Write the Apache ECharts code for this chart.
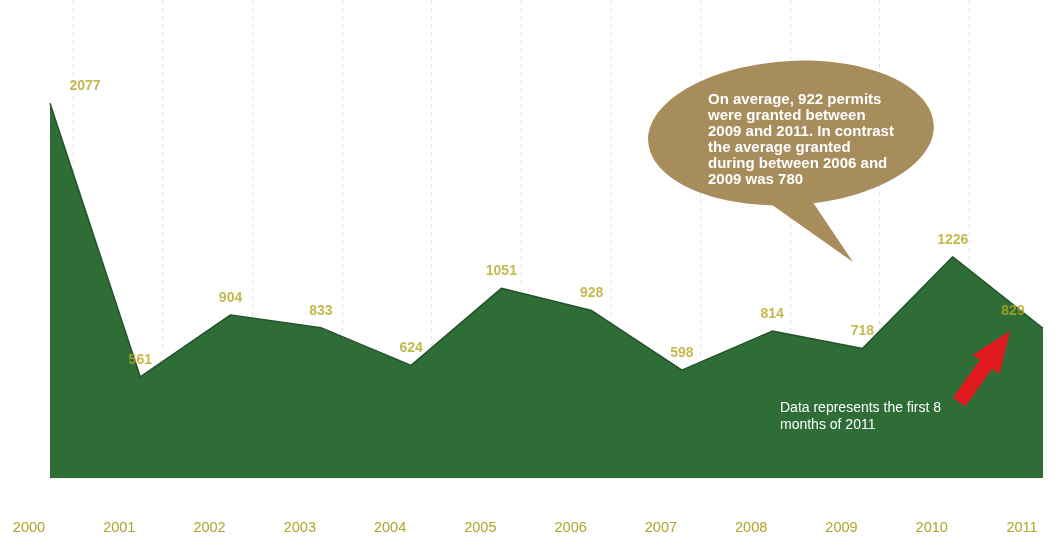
<!DOCTYPE html>
<html>
<head>
<meta charset="utf-8">
<script src="https://cdn.jsdelivr.net/npm/echarts@6/dist/echarts.min.js"></script>
<style>
  html, body { margin: 0; padding: 0; background: #ffffff; }
  #chart { width: 1059px; height: 540px; }
</style>
</head>
<body>
<div id="chart"></div>
<script>
const years = ['2000','2001','2002','2003','2004','2005','2006','2007','2008','2009','2010','2011'];
const permits = [2077, 561, 904, 833, 624, 1051, 928, 598, 814, 718, 1226, 829];
const bubbleLines = [
  'On average, 922 permits',
  'were granted between',
  '2009 and 2011. In contrast',
  'the average granted',
  'during between 2006 and',
  '2009 was 780'
];
const noteLines = ['Data represents the first 8', 'months of 2011'];

const labelColor = '#b3a823';
const seriesData = permits.map(function (v, i) {
  const d = { value: v };
  if (i === 0) d.label = { padding: [0, 0, 0, 70] };
  if (i === permits.length - 1) d.label = { padding: [0, 60, 0, 0] };
  return d;
});

const chart = echarts.init(document.getElementById('chart'), null, { renderer: 'canvas' });
chart.setOption({
  animation: false,
  backgroundColor: '#ffffff',
  grid: [
    { left: 50, right: 16, top: 81, bottom: 62 },
    { left: 73, right: -7, top: 0, bottom: 62 }
  ],
  xAxis: [
    {
      type: 'category', data: years, boundaryGap: false, gridIndex: 0,
      offset: 20,
      axisLine: { show: true, lineStyle: { color: '#ececec', width: 1 } },
      axisTick: { show: false },
      splitLine: { show: false },
      axisLabel: {
        color: '#aea52c', fontFamily: 'Liberation Sans, Arial, sans-serif', fontSize: 14.5,
        margin: 22, padding: [0, 42, 0, 0]
      }
    },
    {
      type: 'category', data: years, boundaryGap: false, gridIndex: 1,
      axisLine: { show: false }, axisTick: { show: false }, axisLabel: { show: false },
      splitLine: { show: true, lineStyle: { color: '#e2e2e2', type: [4, 4], width: 1 } }
    }
  ],
  yAxis: [
    { type: 'value', min: 0, max: 2200, gridIndex: 0, show: false, splitLine: { show: false } },
    { type: 'value', min: 0, max: 2200, gridIndex: 1, show: false, splitLine: { show: false } }
  ],
  series: [
    {
      type: 'line', xAxisIndex: 0, yAxisIndex: 0,
      data: permits,
      symbol: 'none',
      lineStyle: { color: '#24522b', width: 1.5 },
      areaStyle: { color: '#2f6d37', opacity: 1 },
      z: 3
    },
    {
      type: 'scatter', xAxisIndex: 0, yAxisIndex: 0,
      data: seriesData,
      symbol: 'circle', symbolSize: 2,
      itemStyle: { color: 'rgba(0,0,0,0)' },
      silent: true,
      z: 5,
      label: {
        show: true, position: 'top', distance: 9,
        color: labelColor, fontWeight: 'bold', fontSize: 14,
        fontFamily: 'Liberation Sans, Arial, sans-serif'
      },
      labelLayout: { hideOverlap: false }
    }
  ],
  graphic: [
    {
      type: 'polygon', z: 50,
      shape: { points: [[758, 195], [808, 195], [853, 262]] },
      style: { fill: '#a68d5b' }
    },
    {
      type: 'ellipse', z: 50,
      shape: { cx: 791, cy: 133, rx: 143, ry: 72 },
      rotation: 0.06, originX: 791, originY: 133,
      style: { fill: '#a68d5b' }
    },
    {
      type: 'text', z: 60,
      style: {
        x: 708, y: 92,
        text: bubbleLines.join('\n'),
        fill: '#ffffff',
        font: 'bold 15px "Liberation Sans", Arial, sans-serif',
        lineHeight: 16,
        textVerticalAlign: 'top', verticalAlign: 'top'
      }
    },
    {
      type: 'polygon', z: 60,
      shape: { points: [[965.1, 406.4], [992.2, 368.7], [999.5, 373.9], [1010, 331], [972.7, 354.7], [980.0, 359.9], [952.9, 397.6]] },
      style: { fill: '#e0191f' }
    },
    {
      type: 'text', z: 60,
      style: {
        x: 780, y: 400,
        text: noteLines.join('\n'),
        fill: '#ffffff',
        font: '14px "Liberation Sans", Arial, sans-serif',
        lineHeight: 17,
        textVerticalAlign: 'top', verticalAlign: 'top'
      }
    }
  ]
});
</script>
</body>
</html>
